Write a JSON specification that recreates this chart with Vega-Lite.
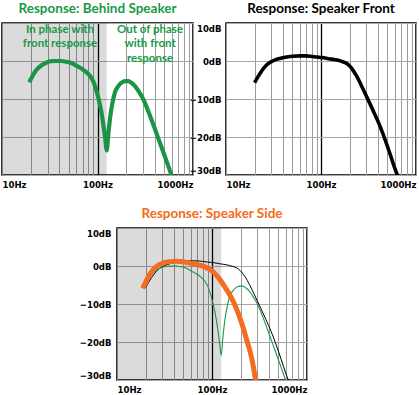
{
  "$schema": "https://vega.github.io/schema/vega-lite/v6.json",
  "padding": {"left": 1, "top": 0, "right": 0, "bottom": 0},
  "background": "white",
  "spacing": 15,
  "columns": 1,
  "align": "none",
  "config": {
    "view": {"stroke": "black", "strokeWidth": 1.6},
    "concat": {"spacing": 0},
    "title": {"font": "Lato", "fontSize": 13.5, "fontWeight": "bold", "offset": 8, "baseline": "alphabetic", "frame": "group", "anchor": "middle"},
    "axisX": {
      "values": [10, 20, 30, 40, 50, 60, 70, 80, 90, 100, 200, 300, 400, 500, 600, 700, 800, 900, 1000],
      "labelExpr": "datum.value == 10 || datum.value == 100 || datum.value == 1000 ? datum.value + 'Hz' : ''",
      "labelFlush": true,
      "labelOverlap": false,
      "ticks": false,
      "domain": false,
      "grid": true,
      "gridColor": {"condition": {"test": "datum.value == 100", "value": "#000000"}, "value": "#9a9a9a"},
      "gridWidth": {"condition": {"test": "datum.value == 100", "value": 1.3}, "value": 1},
      "title": null,
      "labelFont": "DejaVu Sans Condensed",
      "labelFontSize": 9.5,
      "labelFontWeight": "bold",
      "labelColor": "#000000",
      "labelPadding": 4
    },
    "axisY": {
      "values": [10, 0, -10, -20, -30],
      "labelExpr": "datum.value < 0 ? '−' + (-datum.value) + 'dB' : datum.value + 'dB'",
      "labelFlush": true,
      "labelOverlap": false,
      "ticks": false,
      "domain": false,
      "grid": true,
      "gridColor": "#a8a8a8",
      "gridWidth": 1,
      "title": null,
      "labelFont": "DejaVu Sans Condensed",
      "labelFontSize": 9.5,
      "labelFontWeight": "bold",
      "labelColor": "#000000",
      "labelPadding": 5
    }
  },
  "datasets": {
    "shade": [{"lo": 10, "hi": 125}],
    "behind": [
      {"freq": 19.3, "db": -5.6}, {"freq": 21, "db": -3.8}, {"freq": 23, "db": -2.3}, {"freq": 26, "db": -1.1},
      {"freq": 29.4, "db": -0.4}, {"freq": 33, "db": -0.05}, {"freq": 37.4, "db": 0.0}, {"freq": 42, "db": 0.0},
      {"freq": 47.5, "db": -0.2}, {"freq": 54, "db": -0.6}, {"freq": 60.5, "db": -1.3}, {"freq": 69, "db": -2.1},
      {"freq": 77, "db": -3.0}, {"freq": 84, "db": -4.0}, {"freq": 90, "db": -5.3}, {"freq": 96, "db": -7.2},
      {"freq": 102, "db": -9.7}, {"freq": 109, "db": -13.0}, {"freq": 115, "db": -16.7}, {"freq": 120, "db": -20.0},
      {"freq": 125, "db": -23.5}, {"freq": 130, "db": -19.0}, {"freq": 137, "db": -14.0}, {"freq": 144, "db": -10.8},
      {"freq": 152, "db": -8.3}, {"freq": 165, "db": -6.6}, {"freq": 179, "db": -5.7}, {"freq": 195, "db": -5.3},
      {"freq": 210, "db": -5.3}, {"freq": 228, "db": -5.8}, {"freq": 247, "db": -6.6}, {"freq": 270, "db": -8.0},
      {"freq": 302, "db": -10.1}, {"freq": 340, "db": -13.2}, {"freq": 384, "db": -16.7}, {"freq": 435, "db": -20.5},
      {"freq": 489, "db": -24.0}, {"freq": 540, "db": -27.0}, {"freq": 598, "db": -30.2}
    ],
    "front": [
      {"freq": 20, "db": -5.7}, {"freq": 21.5, "db": -4.3}, {"freq": 23.2, "db": -3.0}, {"freq": 25, "db": -1.9},
      {"freq": 27.2, "db": -0.9}, {"freq": 31, "db": 0.0}, {"freq": 36, "db": 0.6}, {"freq": 42, "db": 1.0},
      {"freq": 50, "db": 1.25}, {"freq": 60, "db": 1.35}, {"freq": 69, "db": 1.35}, {"freq": 80, "db": 1.2},
      {"freq": 90, "db": 1.05}, {"freq": 103, "db": 0.9}, {"freq": 120, "db": 0.6}, {"freq": 143, "db": 0.3},
      {"freq": 165, "db": -0.1}, {"freq": 182, "db": -0.5}, {"freq": 198, "db": -1.2}, {"freq": 214, "db": -2.2},
      {"freq": 235, "db": -3.8}, {"freq": 262, "db": -6.1}, {"freq": 300, "db": -9.2}, {"freq": 347, "db": -12.6},
      {"freq": 395, "db": -15.7}, {"freq": 442, "db": -18.7}, {"freq": 490, "db": -21.8}, {"freq": 542, "db": -25.0},
      {"freq": 590, "db": -27.8}, {"freq": 640, "db": -30.2}
    ],
    "side": [
      {"freq": 18.6, "db": -5.9}, {"freq": 20, "db": -4.3}, {"freq": 22.4, "db": -2.0}, {"freq": 25, "db": -0.5},
      {"freq": 27.5, "db": 0.3}, {"freq": 31, "db": 0.85}, {"freq": 36, "db": 1.15}, {"freq": 42, "db": 1.25},
      {"freq": 50, "db": 1.1}, {"freq": 58, "db": 0.8}, {"freq": 68, "db": 0.4}, {"freq": 82, "db": -0.1},
      {"freq": 100, "db": -1.3}, {"freq": 118, "db": -3.2}, {"freq": 138, "db": -5.7}, {"freq": 157, "db": -8.0},
      {"freq": 176, "db": -10.5}, {"freq": 195, "db": -13.4}, {"freq": 215, "db": -16.6}, {"freq": 234, "db": -19.8},
      {"freq": 253, "db": -22.7}, {"freq": 270, "db": -26.0}, {"freq": 288, "db": -30.2}
    ],
    "notes": [
      {"label": "In phase with\nfront response", "freq": 40.5, "db": 9.8},
      {"label": "Out of phase\nwith front\nresponse", "freq": 355, "db": 9.8}
    ]
  },
  "concat": [
    {
      "spacing": -6,
      "hconcat": [
        {
          "width": 191,
          "height": 152,
          "title": {"text": "Response: Behind Speaker", "color": "#169b45"},
          "layer": [
            {
              "data": {"name": "shade"},
              "mark": {"type": "rect", "color": "#000000", "opacity": 0.14},
              "encoding": {
                "x": {"field": "lo", "type": "quantitative", "scale": {"type": "log", "domain": [10, 1000], "nice": false}},
                "x2": {"field": "hi"}
              }
            },
            {
              "data": {"name": "behind"},
              "mark": {"type": "line", "color": "#1c9447", "strokeWidth": 4.2, "interpolate": "monotone", "clip": true, "strokeCap": "butt"},
              "encoding": {
                "x": {"field": "freq", "type": "quantitative"},
                "y": {"field": "db", "type": "quantitative", "scale": {"domain": [-30, 10], "nice": false}, "axis": {"labels": false, "minExtent": 0, "maxExtent": 0}}
              }
            },
            {
              "data": {"name": "notes"},
              "mark": {"type": "text", "color": "#169b45", "font": "Lato", "fontSize": 11.5, "fontWeight": "bold", "lineBreak": "\n", "lineHeight": 14.5, "align": "center", "baseline": "top"},
              "encoding": {
                "x": {"field": "freq", "type": "quantitative"},
                "y": {"field": "db", "type": "quantitative"},
                "text": {"field": "label"}
              }
            }
          ]
        },
        {
          "width": 190,
          "height": 152,
          "title": {"text": "Response: Speaker Front", "color": "#000000"},
          "data": {"name": "front"},
          "mark": {"type": "line", "color": "#000000", "strokeWidth": 3.6, "interpolate": "monotone", "clip": true, "strokeCap": "butt"},
          "encoding": {
            "x": {"field": "freq", "type": "quantitative", "scale": {"type": "log", "domain": [10, 1000], "nice": false}},
            "y": {"field": "db", "type": "quantitative", "scale": {"domain": [-30, 10], "nice": false}, "axis": {"minExtent": 32, "maxExtent": 32}}
          }
        }
      ]
    },
    {
      "hconcat": [
        {
          "width": 76,
          "height": 10,
          "view": {"stroke": null},
          "data": {"values": []},
          "mark": "point"
        },
        {
          "width": 190,
          "height": 152,
          "title": {"text": "Response: Speaker Side", "color": "#f36c21"},
          "layer": [
            {
              "data": {"name": "shade"},
              "mark": {"type": "rect", "color": "#000000", "opacity": 0.14},
              "encoding": {
                "x": {"field": "lo", "type": "quantitative", "scale": {"type": "log", "domain": [10, 1000], "nice": false}},
                "x2": {"field": "hi"}
              }
            },
            {
              "data": {"name": "front"},
              "mark": {"type": "line", "color": "#000000", "strokeWidth": 1, "interpolate": "monotone", "clip": true},
              "encoding": {
                "x": {"field": "freq", "type": "quantitative"},
                "y": {"field": "db", "type": "quantitative", "scale": {"domain": [-30, 10], "nice": false}, "axis": {"minExtent": 30, "maxExtent": 30, "labelPadding": 6}}
              }
            },
            {
              "data": {"name": "behind"},
              "mark": {"type": "line", "color": "#1c9447", "strokeWidth": 1.1, "interpolate": "monotone", "clip": true},
              "encoding": {
                "x": {"field": "freq", "type": "quantitative"},
                "y": {"field": "db", "type": "quantitative"}
              }
            },
            {
              "data": {"name": "side"},
              "mark": {"type": "line", "color": "#f36c21", "strokeWidth": 5, "interpolate": "monotone", "clip": true, "strokeCap": "butt"},
              "encoding": {
                "x": {"field": "freq", "type": "quantitative"},
                "y": {"field": "db", "type": "quantitative"}
              }
            }
          ]
        }
      ]
    }
  ]
}
